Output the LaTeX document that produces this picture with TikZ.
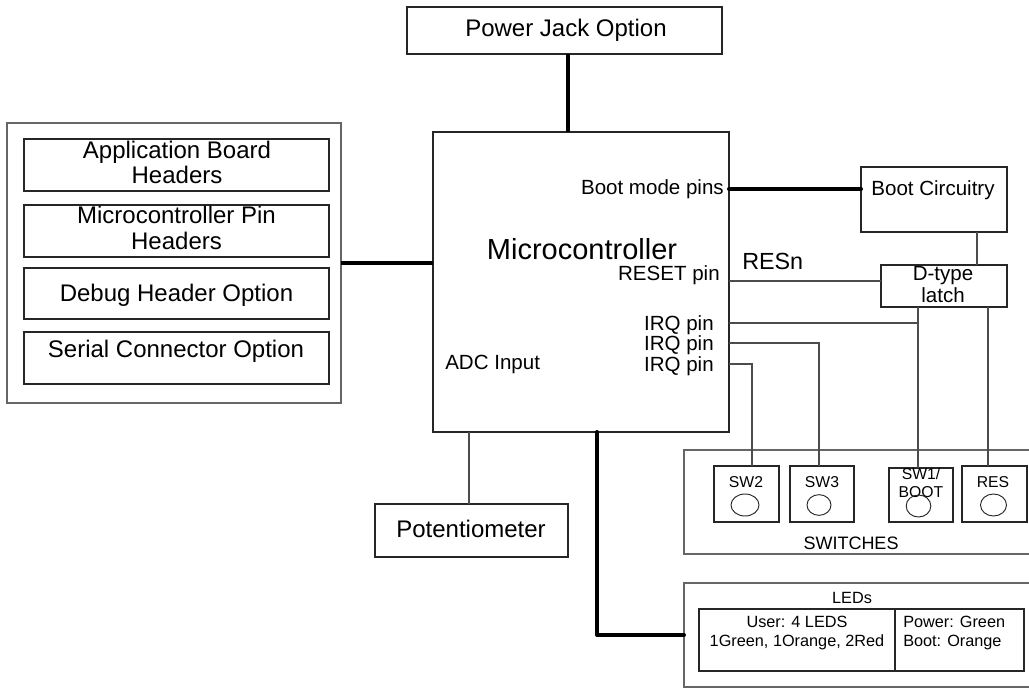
\documentclass[tikz,border=0pt]{standalone}
\usepackage{fontspec}
\setmainfont{Liberation Sans}
\usetikzlibrary{shapes.geometric}
\newcommand\fbig{\fontsize{18}{19.5}\selectfont}
\newcommand\fmc{\fontsize{21.75}{23}\selectfont}
\newcommand\fpin{\fontsize{15.4}{16}\selectfont}
\newcommand\fresn{\fontsize{17.5}{18}\selectfont}
\newcommand\fsw{\fontsize{11.8}{12.5}\selectfont}
\newcommand\fswl{\fontsize{13.5}{14}\selectfont}
\newcommand\fled{\fontsize{12.2}{13}\selectfont}
\begin{document}
\begin{tikzpicture}[x=0.75pt,y=-0.75pt,
  box/.style={draw=black!85, line width=0.8pt, inner sep=0pt, outer sep=0pt},
  gbox/.style={draw=black!60, line width=0.8pt, inner sep=0pt, outer sep=0pt},
  wire/.style={draw=black!70, line width=0.8pt},
  bus/.style={draw=black, line width=3pt, line cap=round},
  txt/.style={inner sep=0pt, anchor=base},
  btn/.style={ellipse, draw=black!85, line width=0.7pt, inner sep=0pt},
]
\useasboundingbox (0,0) rectangle (1029,688);
\clip (0,0) rectangle (1029,688);

% Power jack
\node[box, minimum width=236.25pt, minimum height=35.25pt] (pj) at (564.5,30.5) {};
\node[txt, font=\fbig] (pjt) at (566,37) {Power Jack Option};

% Microcontroller
\node[box, minimum width=222pt, minimum height=225pt] (mc) at (581,282) {};
\node[txt, font=\fmc] (mct) at (582,260) {Microcontroller};
\node[txt, font=\fpin, anchor=base east] (bootpins) at (724,195) {Boot mode pins};
\node[txt, font=\fpin, anchor=base east] (resetpin) at (720,281) {RESET pin};
\node[txt, font=\fpin, anchor=base east] (irqa) at (714,330) {IRQ pin};
\node[txt, font=\fpin, anchor=base east] (irqb) at (714,350) {IRQ pin};
\node[txt, font=\fpin, anchor=base east] (irqc) at (714,371) {IRQ pin};
\node[txt, font=\fpin, anchor=base west] (adc) at (445,369) {ADC Input};
\node[txt, font=\fresn, anchor=base west] (resn) at (742,270) {RESn};

% Headers group
\node[gbox, minimum width=250.5pt, minimum height=210pt] (hdr) at (174,263) {};
\node[box, minimum width=228.75pt, minimum height=39pt] (hb1) at (176.5,165) {};
\node[box, minimum width=228.75pt, minimum height=39pt] (hb2) at (176.5,231) {};
\node[box, minimum width=228.75pt, minimum height=38.25pt] (hb3) at (176.5,293.5) {};
\node[box, minimum width=228.75pt, minimum height=39pt] (hb4) at (176.5,358) {};
\node[txt, font=\fbig] (hb1a) at (177,159) {Application Board};
\node[txt, font=\fbig] (hb1b) at (177,184) {Headers};
\node[txt, font=\fbig] (hb2a) at (176.5,224) {Microcontroller Pin};
\node[txt, font=\fbig] (hb2b) at (176.5,250) {Headers};
\node[txt, font=\fbig] (hb3a) at (176.5,301) {Debug Header Option};
\node[txt, font=\fbig] (hb4a) at (176,357) {Serial Connector Option};

% Boot circuitry and latch
\node[box, minimum width=109.5pt, minimum height=48.75pt] (bc) at (934,199.5) {};
\node[txt, font=\fpin] (bct) at (933,196) {Boot Circuitry};
\node[box, minimum width=94.5pt, minimum height=31.5pt] (latch) at (944,286) {};
\node[txt, font=\fpin] (latcha) at (943,281) {D-type};
\node[txt, font=\fpin] (latchb) at (943,302) {latch};

% Switches
\node[gbox, minimum width=267pt, minimum height=78pt] (swg) at (862,502) {};
\node[box, minimum width=48.75pt, minimum height=42pt] (sw2) at (746.5,494) {};
\node[box, minimum width=48pt, minimum height=42pt] (sw3) at (822,494) {};
\node[box, minimum width=48pt, minimum height=40.5pt] (sw1) at (921,495) {};
\node[box, minimum width=48.75pt, minimum height=42pt] (res) at (994.5,494) {};
\node[txt, font=\fsw] (sw2t) at (746,487) {SW2};
\node[txt, font=\fsw] (sw3t) at (822,487) {SW3};
\node[txt, font=\fsw] (sw1a) at (921,479) {SW1/};
\node[txt, font=\fsw] (sw1b) at (921,497) {BOOT};
\node[txt, font=\fsw] (rest) at (993,487) {RES};
\node[btn, minimum width=21pt, minimum height=16.5pt] (c2) at (745,505) {};
\node[btn, minimum width=18pt, minimum height=15.5pt] (c3) at (819,505) {};
\node[btn, minimum width=18.5pt, minimum height=16.5pt] (c1) at (918.5,506) {};
\node[btn, minimum width=19.5pt, minimum height=16.5pt] (cr) at (993.5,505) {};
\node[txt, font=\fswl] (swt) at (851,549) {SWITCHES};

% LEDs
\node[gbox, minimum width=267pt, minimum height=78pt] (leds) at (862,635) {};
\node[txt, font=\fled] (ledst) at (852,603) {LEDs};
\node[box, minimum width=147pt, minimum height=46.5pt] (user) at (797,640) {};
\node[box, minimum width=96.75pt, minimum height=46.5pt] (pwr) at (959.5,640) {};
\node[txt, font=\fled] (usera) at (797,627) {User: 4 LEDS};
\node[txt, font=\fled] (userb) at (797,646) {1Green, 1Orange, 2Red};
\node[txt, font=\fled, anchor=base west] (pwra) at (903,627) {Power: Green};
\node[txt, font=\fled, anchor=base west] (pwrb) at (903,646) {Boot: Orange};

% Potentiometer
\node[box, minimum width=144.75pt, minimum height=39.75pt] (pot) at (471.5,530.5) {};
\node[txt, font=\fbig] (pott) at (471,537) {Potentiometer};

% Thick connectors
\draw[bus, line cap=butt] (568,0 |- pj.south) -- (568,0 |- mc.north);
\draw[bus, line cap=butt] (hdr.east) -- (hdr.east -| mc.west);
\draw[bus] (mc.east |- 0,189) -- (bc.west |- 0,189);
\draw[bus, line join=round] (597,0 |- mc.south) |- (leds.west);

% Thin connectors
\draw[wire] (977,0 |- bc.south) -- (977,0 |- latch.north);
\draw[wire] (mc.east |- 0,281) -- (latch.west |- 0,281);
\draw[wire] (918,0 |- latch.south) -- (918,0 |- sw1.north);
\draw[wire] (988,0 |- latch.south) -- (988,0 |- res.north);
\draw[wire] (mc.east |- 0,323) -- (918,323);
\draw[wire] (mc.east |- 0,343) -| (819,0 |- sw3.north);
\draw[wire] (mc.east |- 0,364) -| (752,0 |- sw2.north);
\draw[wire] (469,0 |- mc.south) -- (469,0 |- pot.north);
\end{tikzpicture}
\end{document}
